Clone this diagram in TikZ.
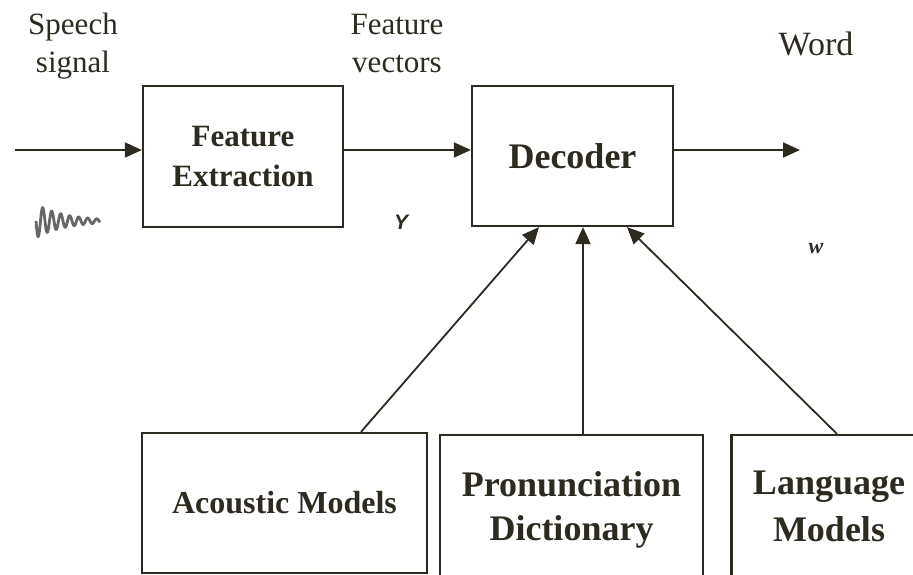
\documentclass[tikz,border=0pt]{standalone}
\usepackage{fontspec}
\setmainfont{Liberation Serif}
\newfontfamily\arialfont{Liberation Sans}
\usetikzlibrary{arrows.meta}
\definecolor{ink}{RGB}{45,42,32}
\tikzset{
  box/.style={draw=ink, line width=2.2pt, text=ink, inner sep=0pt, align=center, font=\bfseries},
  conn/.style={draw=ink, line width=1.8pt, -{Triangle[length=17pt,width=15pt]}},
  lbl/.style={text=ink, align=center, inner sep=0pt},
}
\begin{document}
\begin{tikzpicture}[x=1pt,y=-1pt]
\useasboundingbox (0,0) rectangle (913,574);
\clip (0,0) rectangle (913,574);
% top boxes
\node[box, minimum width=200pt, minimum height=141pt, font=\bfseries\fontsize{31}{40}\selectfont] (fe) at (243,156.5) {Feature\\Extraction};
\node[box, minimum width=201pt, minimum height=140pt, font=\bfseries\fontsize{36}{42}\selectfont] (dec) at (572.5,156) {Decoder};
% bottom boxes
\node[box, minimum width=285pt, minimum height=140pt, font=\bfseries\fontsize{32}{40}\selectfont] (am) at (284.5,503) {Acoustic Models};
\node[box, minimum width=263pt, minimum height=150pt, font=\bfseries\fontsize{36}{44}\selectfont] (pd) at (571.5,510) {Pronunciation\\Dictionary};
\node[box, minimum width=195pt, minimum height=142pt, font=\bfseries\fontsize{36}{47}\selectfont] (lm) at (829,506) {Language\\Models};
% labels
\node[lbl, font=\fontsize{31}{38}\selectfont, anchor=base] (sp) at (73,72) {Speech\\signal};
\node[lbl, font=\fontsize{31}{38}\selectfont, anchor=base] (fv) at (397,72) {Feature\\vectors};
\node[lbl, font=\fontsize{34}{40}\selectfont, anchor=base] (wd) at (816,55) {Word};
\node[lbl, font=\arialfont\bfseries\itshape\fontsize{21}{24}\selectfont, anchor=base] (yl) at (401,229) {Y};
\node[lbl, font=\bfseries\itshape\fontsize{22}{24}\selectfont, anchor=base] (wl) at (816,253) {w};
% free ends
\coordinate (in) at (15,150);
\coordinate (out) at (800,150);
% connectors
\draw[conn] (in) -- (fe.west|-in);
\draw[conn] (fe.east|-in) -- (dec.west|-in);
\draw[conn] (dec.east|-in) -- (out);
\draw[conn] (am.north -| 361,0) -- (dec.south -| 539,0);
\draw[conn] (pd.north -| 583,0) -- (dec.south -| 583,0);
\draw[conn] (lm.north -| 837,0) -- (dec.south -| 627,0);
% waveform
\draw[draw=black!70, line width=2.8pt, line join=round, opacity=0.85]
  plot[smooth, domain=0:64, samples=90] (\x+36, {221 + (17*exp(-\x/30))*sin(\x*40)});
\end{tikzpicture}
\end{document}
